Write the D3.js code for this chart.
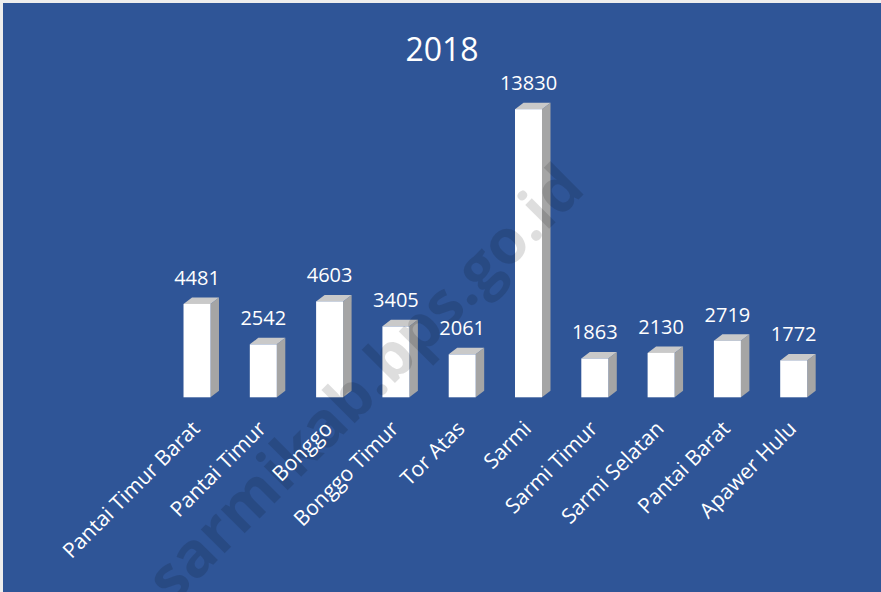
<!DOCTYPE html>
<html>
<head>
<meta charset="utf-8">
<style>
  html, body { margin: 0; padding: 0; background: #ffffff; }
  svg { display: block; }
</style>
</head>
<body>
<div id="chart"></div>
<script src="https://d3js.org/d3.v7.min.js"></script>
<script>
  const title = "2018";
  const categories = ["Pantai Timur Barat", "Pantai Timur", "Bonggo", "Bonggo Timur", "Tor Atas",
                      "Sarmi", "Sarmi Timur", "Sarmi Selatan", "Pantai Barat", "Apawer Hulu"];
  const values = [4481, 2542, 4603, 3405, 2061, 13830, 1863, 2130, 2719, 1772];
  const watermark = "sarmikab.bps.go.id";

  const width = 881, height = 592;
  const depthX = 8.5, depthY = -6.5;

  const svg = d3.select("#chart")
    .append("svg")
    .attr("width", width)
    .attr("height", height);

  // panel background with a thin light frame
  svg.append("rect")
    .attr("x", 0).attr("y", 0)
    .attr("width", width).attr("height", height)
    .attr("fill", "#eeeeee");
  svg.append("rect")
    .attr("x", 3).attr("y", 3)
    .attr("width", width - 3).attr("height", height - 3)
    .attr("fill", "#2F5597");

  const x = d3.scaleBand()
    .domain(categories)
    .range([144.2, 846.5])
    .padding(0.593);

  const y = d3.scaleLinear()
    .domain([0, 14000])
    .range([397.3, 397.3 - 14000 * 0.020833]);

  const data = categories.map((c, i) => ({ name: c, value: values[i] }));

  const bars = svg.append("g").selectAll("g")
    .data(data)
    .enter()
    .append("g");

  // side face
  bars.append("path")
    .attr("fill", "#A5A5A5")
    .attr("d", d => {
      const x1 = x(d.name) + x.bandwidth();
      const yt = y(d.value), yb = y(0);
      return `M${x1},${yt}L${x1 + depthX},${yt + depthY}L${x1 + depthX},${yb + depthY}L${x1},${yb}Z`;
    });

  // top face
  bars.append("path")
    .attr("fill", "#C9C9C9")
    .attr("d", d => {
      const x0 = x(d.name), x1 = x0 + x.bandwidth();
      const yt = y(d.value);
      return `M${x0},${yt}L${x0 + depthX},${yt + depthY}L${x1 + depthX},${yt + depthY}L${x1},${yt}Z`;
    });

  // front face
  bars.append("rect")
    .attr("fill", "#ffffff")
    .attr("x", d => x(d.name))
    .attr("y", d => y(d.value))
    .attr("width", x.bandwidth())
    .attr("height", d => y(0) - y(d.value));

  // watermark
  svg.append("text")
    .attr("transform", "translate(380,398) rotate(-45)")
    .attr("text-anchor", "middle")
    .attr("font-family", "'Open Sans', sans-serif")
    .attr("font-weight", "bold")
    .attr("font-size", 62)
    .attr("fill", "rgba(0,0,0,0.13)")
    .text(watermark);

  // value labels
  svg.append("g").selectAll("text")
    .data(data)
    .enter()
    .append("text")
    .attr("x", d => x(d.name) + x.bandwidth() / 2)
    .attr("y", d => y(d.value) - 19)
    .attr("text-anchor", "middle")
    .attr("font-family", "'Open Sans', sans-serif")
    .attr("font-size", 20)
    .attr("fill", "#ffffff")
    .text(d => d.value);

  // category labels
  svg.append("g").selectAll("text")
    .data(data)
    .enter()
    .append("text")
    .attr("transform", d => `translate(${x(d.name) + x.bandwidth() / 2 + 4},430) rotate(-45)`)
    .attr("text-anchor", "end")
    .attr("font-family", "'Open Sans', sans-serif")
    .attr("font-size", 21)
    .attr("fill", "#ffffff")
    .text(d => d.name);

  // title
  svg.append("text")
    .attr("x", 442)
    .attr("y", 61)
    .attr("text-anchor", "middle")
    .attr("font-family", "'Open Sans', sans-serif")
    .attr("font-size", 32)
    .attr("fill", "#ffffff")
    .text(title);
</script>
</body>
</html>
